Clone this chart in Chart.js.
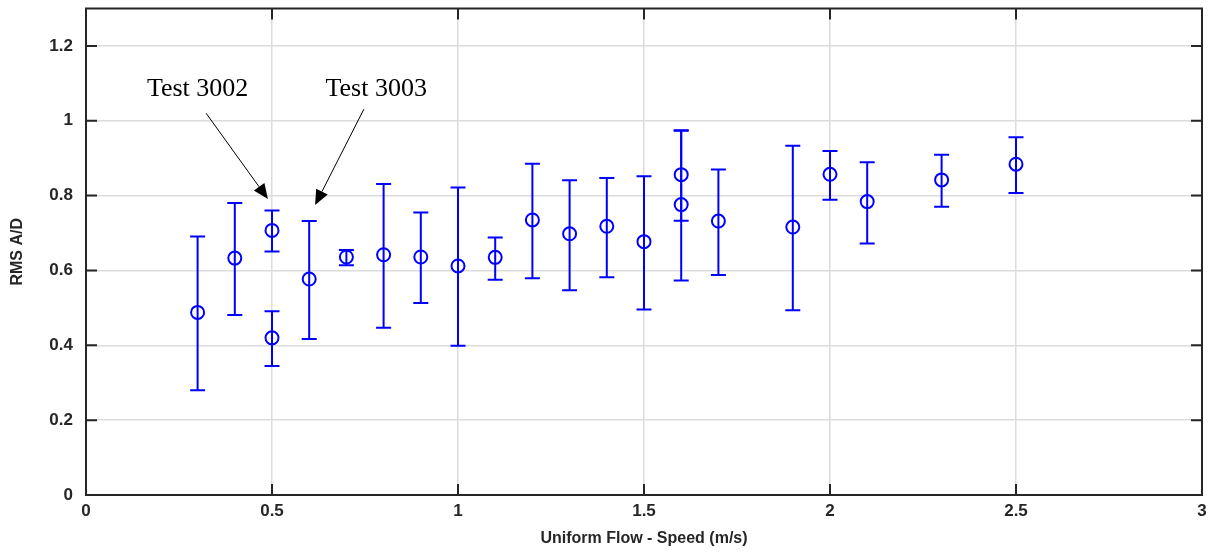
<!DOCTYPE html>
<html>
<head>
<meta charset="utf-8">
<script src="https://cdn.jsdelivr.net/npm/chart.js@4/dist/chart.umd.min.js"></script>
<style>
  html, body { margin: 0; padding: 0; background: #fff; }
  #wrap { width: 1217px; height: 556px; position: relative; }
</style>
</head>
<body>
<div id="wrap"><canvas id="rmsChart"></canvas></div>
<script>
// Flow speed (m/s) and RMS A/D with error-bar limits
const speeds   = [0.3, 0.4, 0.5, 0.5, 0.6, 0.7, 0.8, 0.9, 1.0, 1.1, 1.2, 1.3, 1.4, 1.5, 1.6, 1.6, 1.7, 1.9, 2.0, 2.1, 2.3, 2.5];
const rmsAD    = [0.488, 0.633, 0.707, 0.420, 0.577, 0.636, 0.642, 0.636, 0.612, 0.635, 0.735, 0.698, 0.718, 0.677, 0.856, 0.776, 0.732, 0.716, 0.857, 0.784, 0.842, 0.884];
const errLow   = [0.280, 0.481, 0.651, 0.345, 0.417, 0.614, 0.447, 0.513, 0.399, 0.575, 0.579, 0.547, 0.582, 0.496, 0.733, 0.573, 0.588, 0.494, 0.789, 0.672, 0.770, 0.807];
const errHigh  = [0.691, 0.780, 0.760, 0.491, 0.732, 0.655, 0.831, 0.755, 0.822, 0.688, 0.885, 0.841, 0.847, 0.852, 0.973, 0.975, 0.870, 0.933, 0.919, 0.889, 0.909, 0.956];

const xTicks = [0, 0.5, 1, 1.5, 2, 2.5, 3];
const yTicks = [0, 0.2, 0.4, 0.6, 0.8, 1.0, 1.2];

// callouts: label position and arrow (from -> tip), in data units
const callouts = [
  { text: "Test 3002", at: [0.30, 1.085], from: [0.323, 1.02], to: [0.489, 0.791] },
  { text: "Test 3003", at: [0.78, 1.085], from: [0.747, 1.031], to: [0.616, 0.775] }
];

const axisColor = "#262626";
const blue = "#0000ff";

const points = speeds.map((x, i) => ({ x: x, y: rmsAD[i] }));

// vertical error bars with caps
const errorBars = {
  id: "errorBars",
  beforeDatasetsDraw(chart) {
    const { ctx, scales: { x, y } } = chart;
    const cap = 7.5;
    ctx.save();
    ctx.strokeStyle = blue;
    ctx.lineWidth = 2;
    speeds.forEach((s, i) => {
      const px = x.getPixelForValue(s);
      const lo = y.getPixelForValue(errLow[i]);
      const hi = y.getPixelForValue(errHigh[i]);
      ctx.beginPath();
      ctx.moveTo(px, lo); ctx.lineTo(px, hi);
      ctx.moveTo(px - cap, lo); ctx.lineTo(px + cap, lo);
      ctx.moveTo(px - cap, hi); ctx.lineTo(px + cap, hi);
      ctx.stroke();
    });
    ctx.restore();
  }
};

// box outline plus inward tick marks on all four sides
const boxAxes = {
  id: "boxAxes",
  afterDatasetsDraw(chart) {
    const { ctx, chartArea: a, scales: { x, y } } = chart;
    const len = 11;
    ctx.save();
    ctx.strokeStyle = axisColor;
    ctx.lineWidth = 2;
    ctx.beginPath();
    yTicks.forEach(v => {
      const py = y.getPixelForValue(v);
      ctx.moveTo(a.left, py); ctx.lineTo(a.left + len, py);
      ctx.moveTo(a.right, py); ctx.lineTo(a.right - len, py);
    });
    xTicks.forEach(v => {
      const px = x.getPixelForValue(v);
      ctx.moveTo(px, a.bottom); ctx.lineTo(px, a.bottom - len);
      ctx.moveTo(px, a.top); ctx.lineTo(px, a.top + len);
    });
    ctx.stroke();
    ctx.strokeRect(a.left, a.top, a.right - a.left, a.bottom - a.top);
    ctx.restore();
  }
};

// text callouts with filled arrowheads
const calloutPlugin = {
  id: "callouts",
  afterDraw(chart) {
    const { ctx, scales: { x, y } } = chart;
    ctx.save();
    ctx.fillStyle = "#000";
    ctx.strokeStyle = "#000";
    ctx.lineWidth = 1;
    ctx.font = "26px 'Liberation Serif', 'Times New Roman', serif";
    ctx.textAlign = "center";
    ctx.textBaseline = "middle";
    callouts.forEach(c => {
      ctx.fillText(c.text, x.getPixelForValue(c.at[0]), y.getPixelForValue(c.at[1]));
      const x0 = x.getPixelForValue(c.from[0]), y0 = y.getPixelForValue(c.from[1]);
      const x1 = x.getPixelForValue(c.to[0]), y1 = y.getPixelForValue(c.to[1]);
      const ang = Math.atan2(y1 - y0, x1 - x0);
      const hl = 15, hw = 6.5;
      const bx = x1 - hl * Math.cos(ang), by = y1 - hl * Math.sin(ang);
      ctx.beginPath();
      ctx.moveTo(x0, y0); ctx.lineTo(bx, by);
      ctx.stroke();
      ctx.beginPath();
      ctx.moveTo(x1, y1);
      ctx.lineTo(bx + hw * Math.sin(ang), by - hw * Math.cos(ang));
      ctx.lineTo(bx - hw * Math.sin(ang), by + hw * Math.cos(ang));
      ctx.closePath();
      ctx.fill();
    });
    ctx.restore();
  }
};

const tickFont = { family: "'Liberation Sans', Arial, sans-serif", size: 17, weight: "bold" };
const titleFont = { family: "'Liberation Sans', Arial, sans-serif", size: 16, weight: "bold" };
const fmt = v => String(+Number(v).toFixed(1));

new Chart(document.getElementById("rmsChart"), {
  type: "scatter",
  data: {
    datasets: [{
      label: "RMS A/D",
      data: points,
      pointStyle: "circle",
      pointRadius: 6.5,
      pointHoverRadius: 6.5,
      borderColor: blue,
      backgroundColor: "rgba(0,0,0,0)",
      borderWidth: 2,
      pointBorderWidth: 2
    }]
  },
  options: {
    responsive: true,
    maintainAspectRatio: false,
    animation: false,
    layout: { padding: { top: 6, right: 15, left: 0, bottom: 0 } },
    plugins: {
      legend: { display: false },
      tooltip: { enabled: false }
    },
    scales: {
      x: {
        type: "linear",
        min: 0, max: 3,
        afterBuildTicks: s => { s.ticks = xTicks.map(v => ({ value: v })); },
        afterFit: s => { s.height = 61; s.paddingLeft = 0; s.paddingRight = 0; },
        grid: { color: "#dcdcdc", lineWidth: 1.5, drawTicks: false },
        border: { display: false },
        ticks: { color: axisColor, font: tickFont, padding: 6, maxRotation: 0, callback: fmt },
        title: { display: true, text: "Uniform Flow - Speed (m/s)", color: axisColor, font: titleFont, padding: { top: 0, bottom: 8 } }
      },
      y: {
        type: "linear",
        min: 0, max: 1.3,
        afterBuildTicks: s => { s.ticks = yTicks.map(v => ({ value: v })); },
        afterFit: s => { s.width = 86; s.paddingTop = 0; s.paddingBottom = 0; },
        grid: { color: "#dcdcdc", lineWidth: 1.5, drawTicks: false },
        border: { display: false },
        ticks: { color: axisColor, font: tickFont, padding: 13, callback: fmt },
        title: { display: true, text: "RMS A/D", color: axisColor, font: titleFont, padding: { top: 8, bottom: 0 } }
      }
    }
  },
  plugins: [errorBars, boxAxes, calloutPlugin]
});
</script>
</body>
</html>
